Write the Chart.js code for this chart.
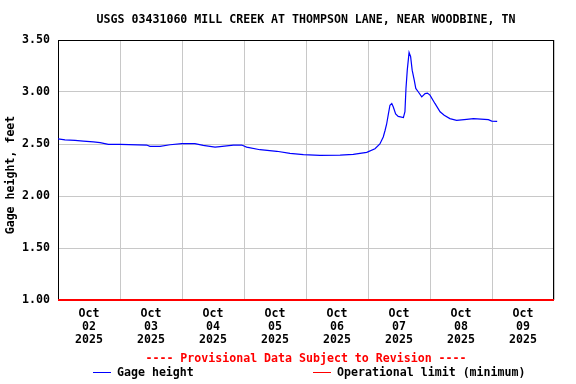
<!DOCTYPE html>
<html>
<head>
<meta charset="utf-8">
<script src="https://cdn.jsdelivr.net/npm/chart.js@4"></script>
<style>
  html, body { margin: 0; padding: 0; background: #fff; }
  #wrap { width: 576px; height: 384px; }
</style>
</head>
<body>
<div id="wrap"><canvas id="chart" width="576" height="384"></canvas></div>
<script>
// hours since Oct 02 2025 00:00
const hours = [0, 2.7, 6.6, 9.8, 13.7, 16.3, 19.5, 24, 34.3, 35.6, 39.5, 43.4, 47.9, 53, 56.2, 60.8, 62.7,
  67.9, 71.1, 73, 78.2, 84.7, 89.8, 95, 101.4, 109.2, 114.3, 119.5, 122.7, 124.6, 125.9, 126.6, 127.2,
  127.9, 128.5, 129.2, 129.8, 130.7, 131.7, 133.7, 134.3, 134.7, 135.2, 135.9, 136.5, 137.1, 137.9,
  138.5, 139.5, 140.8, 142.1, 143, 144, 145.9, 147.9, 149.5, 151.7, 154.3, 158.2, 160.8, 166.6, 167.9, 170];
const gageHeight = [2.55, 2.54, 2.535, 2.528, 2.52, 2.513, 2.497, 2.496, 2.49, 2.477, 2.477, 2.493, 2.503, 2.503, 2.487, 2.47, 2.475,
  2.49, 2.49, 2.47, 2.445, 2.43, 2.41, 2.397, 2.39, 2.393, 2.40, 2.42, 2.455, 2.50, 2.567, 2.63, 2.69,
  2.79, 2.873, 2.89, 2.856, 2.79, 2.766, 2.754, 2.81, 3.034, 3.21, 3.38, 3.34, 3.21, 3.114,
  3.034, 3.0, 2.953, 2.985, 2.99, 2.97, 2.89, 2.81, 2.776, 2.744, 2.728, 2.737, 2.744, 2.734, 2.72, 2.718];
const opLimit = [1.00, 1.00];
const opLimitHours = [0, 192];
const dayLabels = ['02', '03', '04', '05', '06', '07', '08', '09'];
const yTicks = [1.0, 1.5, 2.0, 2.5, 3.0, 3.5];

const titleText = 'USGS 03431060 MILL CREEK AT THOMPSON LANE, NEAR WOODBINE, TN';
const yTitle = 'Gage height, feet';
const provisional = '---- Provisional Data Subject to Revision ----';
const seriesNames = ['Gage height', 'Operational limit (minimum)'];

const FAMILY = '"DejaVu Sans Mono", monospace';
const FONT = 'bold 11.6px ' + FAMILY;

//frame goes under the lines
const frame = {
    id: 'frame',
    beforeDatasetsDraw(chart) {
        const c = chart.ctx, a = chart.chartArea;
        c.save();
        c.strokeStyle = '#000';
        c.lineWidth = 1;
        c.strokeRect(a.left + 0.5, a.top + 0.5, a.right - a.left - 1, a.bottom - a.top - 1);
        c.restore();
    }
};

//title, axis title and legend
const extras = {
    id: 'extras',
    afterDraw(chart) {
        const c = chart.ctx, a = chart.chartArea;
        c.save();
        c.font = FONT;
        c.fillStyle = '#000';
        c.textAlign = 'center';
        c.textBaseline = 'middle';
        c.fillText(titleText, (a.left + a.right) / 2, 19.5);

        c.save();
        c.translate(11, 175);
        c.rotate(-Math.PI / 2);
        c.fillText(yTitle, 0, 0);
        c.restore();

        c.fillStyle = '#ff0000';
        c.fillText(provisional, 306, 359);

        //legend
        c.textAlign = 'left';
        c.fillStyle = '#000';
        c.lineWidth = 1;
        c.strokeStyle = '#0000ff';
        c.beginPath(); c.moveTo(93, 372.5); c.lineTo(111, 372.5); c.stroke();
        c.fillText(seriesNames[0], 117, 373);
        c.strokeStyle = '#ff0000';
        c.beginPath(); c.moveTo(313, 372.5); c.lineTo(331, 372.5); c.stroke();
        c.fillText(seriesNames[1], 337, 373);
        c.restore();
    }
};

new Chart(document.getElementById('chart'), {
    type: 'line',
    data: {
        datasets: [{
            label: seriesNames[1],
            data: opLimitHours.map((h, i) => ({ x: h, y: opLimit[i] })),
            borderColor: '#ff0000',
            borderWidth: 2,
            pointRadius: 0,
            clip: false
        },
        {
            label: seriesNames[0],
            data: hours.map((h, i) => ({ x: h, y: gageHeight[i] })),
            borderColor: '#0000ff',
            borderWidth: 1.2,
            pointRadius: 0,
            tension: 0
        }]
    },
    options: {
        responsive: false,
        animation: false,
        layout: { padding: { top: 40, right: 22, left: 0, bottom: 0 } },
        plugins: {
            legend: { display: false },
            title: { display: false },
            tooltip: { enabled: false }
        },
        scales: {
            x: {
                type: 'linear',
                min: 0,
                max: 192,
                afterBuildTicks: (s) => {
                    s.ticks = [];
                    for (let h = 0; h <= 192; h += 12) s.ticks.push({ value: h });
                },
                afterFit: (s) => { s.height = 84; },
                grid: {
                    drawTicks: false,
                    color: (ctx) => (ctx.tick && ctx.tick.value % 24 === 0) ? '#c8c8c8' : 'rgba(0,0,0,0)',
                    lineWidth: 1
                },
                border: { display: false },
                ticks: {
                    autoSkip: false,
                    maxRotation: 0,
                    padding: 7,
                    color: '#000',
                    font: { family: FAMILY, size: 11.6, weight: 'bold', lineHeight: 1.15 },
                    callback: (v) => {
                        if (v % 24 !== 12) return '';
                        return ['Oct', dayLabels[Math.floor(v / 24)], '2025'];
                    }
                }
            },
            y: {
                min: 1,
                max: 3.5,
                afterBuildTicks: (s) => { s.ticks = yTicks.map(v => ({ value: v })); },
                afterFit: (s) => { s.width = 58; },
                grid: { drawTicks: false, color: '#c8c8c8' },
                border: { display: false },
                ticks: {
                    padding: 8,
                    color: '#000',
                    font: { family: FAMILY, size: 11.6, weight: 'bold' },
                    callback: (v) => v.toFixed(2)
                }
            }
        }
    },
    plugins: [frame, extras]
});
</script>
</body>
</html>
